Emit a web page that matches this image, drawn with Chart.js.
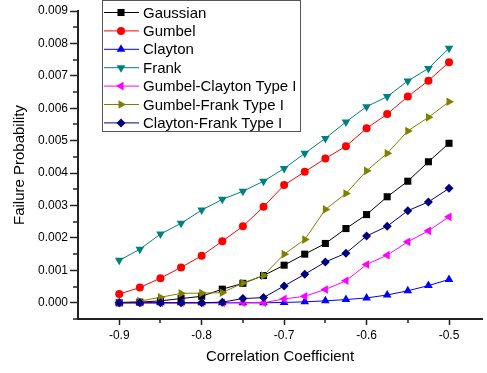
<!DOCTYPE html>
<html>
<head>
<meta charset="utf-8">
<script src="https://cdn.jsdelivr.net/npm/chart.js@4/dist/chart.umd.min.js"></script>
<style>
html,body{margin:0;padding:0;background:#fff;}
#wrap{position:relative;width:487px;height:373px;}
</style>
</head>
<body>
<div id="wrap"><canvas id="c"></canvas></div>
<script>
const correlation = [-0.9,-0.875,-0.85,-0.825,-0.8,-0.775,-0.75,-0.725,-0.7,-0.675,-0.65,-0.625,-0.6,-0.575,-0.55,-0.525,-0.5];
const gaussian = [0.00000,0.00002,0.00006,0.00013,0.00020,0.00042,0.00060,0.00084,0.00116,0.00150,0.00183,0.00229,0.00272,0.00327,0.00375,0.00435,0.00492];
const gumbel = [0.00027,0.00047,0.00076,0.00109,0.00145,0.00190,0.00236,0.00296,0.00363,0.00404,0.00445,0.00483,0.00538,0.00582,0.00636,0.00685,0.00742];
const clayton = [0,0,0,0,0,0,0,0,0.00001,0.00003,0.00006,0.00010,0.00015,0.00024,0.00037,0.00053,0.00072];
const frank = [0.00131,0.00165,0.00212,0.00245,0.00286,0.00319,0.00344,0.00375,0.00414,0.00461,0.00507,0.00558,0.00605,0.00636,0.00684,0.00723,0.00785];
const gumbelClayton = [0,0,0,0,0,0,0,0,0.00012,0.00020,0.00041,0.00068,0.00118,0.00147,0.00188,0.00222,0.00265];
const gumbelFrank = [0.00001,0.00005,0.00017,0.00029,0.00030,0.00031,0.00061,0.00084,0.00150,0.00195,0.00288,0.00337,0.00407,0.00461,0.00530,0.00572,0.00620];
const claytonFrank = [0,0,0,0,0,0.00002,0.00013,0.00016,0.00052,0.00088,0.00126,0.00153,0.00206,0.00236,0.00284,0.00311,0.00353];

const seriesNames = ['Gaussian','Gumbel','Clayton','Frank','Gumbel-Clayton Type I','Gumbel-Frank Type I','Clayton-Frank Type I'];
const seriesValues = [gaussian,gumbel,clayton,frank,gumbelClayton,gumbelFrank,claytonFrank];
const seriesColors = ['#000000','#FF0000','#0000FF','#008080','#FF00FF','#808000','#000080'];
const seriesStyles = [
  {s:'rect',r:5,rot:0},
  {s:'circle',r:4,rot:0},
  {s:'triangle',r:5,rot:0},
  {s:'triangle',r:5,rot:180},
  {s:'triangle',r:5,rot:-90},
  {s:'triangle',r:5,rot:90},
  {s:'rectRot',r:4.5,rot:0}
];

const datasets = seriesNames.map((name,i)=>({
  label: name,
  data: correlation.map((x,j)=>({x:x,y:seriesValues[i][j]})),
  borderColor: seriesColors[i],
  backgroundColor: seriesColors[i],
  borderWidth: 1,
  pointStyle: seriesStyles[i].s,
  pointRadius: seriesStyles[i].r,
  pointRotation: seriesStyles[i].rot,
  pointBorderWidth: 0,
  pointHoverRadius: seriesStyles[i].r,
  tension: 0,
  order: seriesNames.length - i
}));

const isMajorX = (v)=> Math.abs(Math.round(v*20))%2===0;
const isMajorY = (v)=> Math.abs(Math.round(v*2000))%2===0;

const minorTickPlugin = {
  id:'minorTicks',
  afterDraw(chart){
    const ctx = chart.ctx;
    const xs = chart.scales.x, ys = chart.scales.y;
    ctx.save();
    ctx.strokeStyle = '#222';
    ctx.lineWidth = 1.5;
    xs.ticks.forEach(t=>{
      if(isMajorX(t.value)) return;
      const px = Math.round(xs.getPixelForValue(t.value));
      ctx.beginPath(); ctx.moveTo(px, xs.top); ctx.lineTo(px, xs.top+4); ctx.stroke();
    });
    ys.ticks.forEach(t=>{
      if(isMajorY(t.value)) return;
      const py = Math.round(ys.getPixelForValue(t.value));
      ctx.beginPath(); ctx.moveTo(ys.right, py); ctx.lineTo(ys.right-5, py); ctx.stroke();
    });
    ctx.restore();
  }
};

const legendPlugin = {
  id: 'boxLegend',
  afterDraw(chart){
    const ctx = chart.ctx;
    ctx.save();
    const bx = 102.5, by = 0.5, bw = 198, bh = 131;
    ctx.fillStyle = '#fff';
    ctx.fillRect(bx,by,bw,bh);
    ctx.strokeStyle = '#555';
    ctx.lineWidth = 1;
    ctx.strokeRect(bx,by,bw,bh);
    chart.data.datasets.forEach((ds,i)=>{
      const y = 12.5 + i*18.4;
      ctx.strokeStyle = ds.borderColor;
      ctx.lineWidth = 1;
      ctx.beginPath(); ctx.moveTo(104,y); ctx.lineTo(139,y); ctx.stroke();
      ctx.fillStyle = ds.backgroundColor;
      ctx.strokeStyle = ds.borderColor;
      Chart.helpers.drawPoint(ctx,{pointStyle:ds.pointStyle,radius:ds.pointRadius,rotation:ds.pointRotation,borderWidth:0},121,y);
      ctx.fillStyle = '#000';
      ctx.font = '15px "Liberation Sans", Arial, sans-serif';
      ctx.textBaseline = 'middle';
      ctx.textAlign = 'left';
      ctx.fillText(ds.label,143,y+1);
    });
    ctx.restore();
  }
};

const tickFont = {family:'"Liberation Sans", Arial, sans-serif', size:12};
const titleFont = {family:'"Liberation Sans", Arial, sans-serif', size:15};

new Chart(document.getElementById('c'),{
  type:'line',
  data:{datasets},
  plugins:[minorTickPlugin, legendPlugin],
  options:{
    responsive:true,
    maintainAspectRatio:false,
    animation:false,
    events:[],
    layout:{padding:{left:0,top:11,right:0,bottom:0}},
    plugins:{legend:{display:false},tooltip:{enabled:false}},
    scales:{
      x:{
        type:'linear',
        min:-0.95,
        max:-0.46,
        border:{display:true,color:'#222',width:2},
        grid:{display:true,drawOnChartArea:false,drawTicks:true,tickLength:6,
              tickColor:(c)=> isMajorX(c.tick.value) ? '#222' : 'rgba(0,0,0,0)',tickWidth:1.5},
        ticks:{
          stepSize:0.05,
          autoSkip:false,
          includeBounds:false,
          maxRotation:0,
          color:'#000',
          font:tickFont,
          padding:3,
          callback:(v)=> isMajorX(v) ? v.toFixed(1) : ''
        },
        title:{display:true,text:'Correlation Coefficient',color:'#000',font:titleFont,padding:{top:4,bottom:7}},
        afterFit:(s)=>{s.height=54;}
      },
      y:{
        type:'linear',
        min:-0.0005,
        max:0.009,
        border:{display:true,color:'#222',width:2},
        grid:{display:true,drawOnChartArea:false,drawTicks:true,tickLength:8,
              tickColor:(c)=> isMajorY(c.tick.value) ? '#222' : 'rgba(0,0,0,0)',tickWidth:1.5},
        ticks:{
          stepSize:0.0005,
          autoSkip:false,
          color:'#000',
          font:tickFont,
          padding:2,
          callback:(v)=> isMajorY(v) ? v.toFixed(3) : ''
        },
        title:{display:true,text:'Failure Probability',color:'#000',font:titleFont,padding:{top:11,bottom:4}},
        afterFit:(s)=>{s.width=78;}
      }
    }
  }
});
</script>
</body>
</html>
